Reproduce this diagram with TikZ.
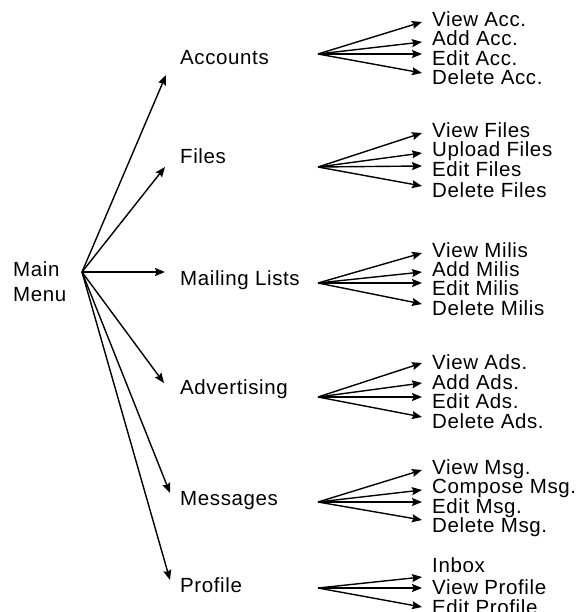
\documentclass[tikz,border=0pt]{standalone}
\usepackage{fontspec}
\setmainfont{Liberation Sans}[LetterSpace=3]
\usetikzlibrary{arrows.meta}
\begin{document}
\begin{tikzpicture}[x=1pt,y=-1pt,
  lbl/.style={anchor=base west,inner sep=0pt,font=\fontsize{20.5pt}{24pt}\selectfont},
  arr/.style={line width=1.4pt,-{Stealth[length=10pt,width=8pt,inset=1.5pt]}}]
\useasboundingbox[fill=white] (0,0) rectangle (580,612);
% root
\node[anchor=west,inner sep=0pt,align=left,font=\fontsize{20.5pt}{25pt}\selectfont] (main) at (13,282) {Main\\Menu};
\coordinate (o) at (82,272);
% first level labels
\node[lbl] (acc) at (180,65) {Accounts};
\node[lbl] (fil) at (180,164) {Files};
\node[lbl] (mai) at (180,285) {Mailing Lists};
\node[lbl] (adv) at (180,394) {Advertising};
\node[lbl] (msg) at (180,505) {Messages};
\node[lbl] (pro) at (180,592) {Profile};
% first level arrow tips
\coordinate (tacc) at (166,75);
\coordinate (tfil) at (165,167);
\coordinate (tmai) at (165,272);
\coordinate (tadv) at (164,383);
\coordinate (tmsg) at (170,493);
\coordinate (tpro) at (170,580);
\foreach \t in {tacc,tfil,tmai,tadv,tmsg,tpro} \draw[arr] (o) -- (\t);
% Accounts
\coordinate (as) at (318,54);
\node[lbl] (a1) at (432,27) {View Acc.};
\node[lbl] (a2) at (432,46) {Add Acc.};
\node[lbl] (a3) at (432,66) {Edit Acc.};
\node[lbl] (a4) at (432,85) {Delete Acc.};
\coordinate (at1) at (422,22);
\coordinate (at2) at (422,42);
\coordinate (at3) at (422,54);
\coordinate (at4) at (422,73);
% Files
\coordinate (fs) at (318,167);
\node[lbl] (f1) at (432,138) {View Files};
\node[lbl] (f2) at (432,157) {Upload Files};
\node[lbl] (f3) at (432,177) {Edit Files};
\node[lbl] (f4) at (432,197) {Delete Files};
\coordinate (ft1) at (422,133);
\coordinate (ft2) at (422,153);
\coordinate (ft3) at (422,166);
\coordinate (ft4) at (422,186);
% Mailing Lists
\coordinate (ms) at (318,283);
\node[lbl] (m1) at (432,257) {View Milis};
\node[lbl] (m2) at (432,276) {Add Milis};
\node[lbl] (m3) at (432,295) {Edit Milis};
\node[lbl] (m4) at (432,315) {Delete Milis};
\coordinate (mt1) at (422,253);
\coordinate (mt2) at (422,272);
\coordinate (mt3) at (422,283);
\coordinate (mt4) at (422,304);
% Advertising
\coordinate (ds) at (318,397);
\node[lbl] (d1) at (432,369) {View Ads.};
\node[lbl] (d2) at (432,389) {Add Ads.};
\node[lbl] (d3) at (432,408) {Edit Ads.};
\node[lbl] (d4) at (432,428) {Delete Ads.};
\coordinate (dt1) at (422,363);
\coordinate (dt2) at (422,383);
\coordinate (dt3) at (422,397);
\coordinate (dt4) at (422,417);
% Messages
\coordinate (gs) at (318,502);
\node[lbl] (g1) at (432,474) {View Msg.};
\node[lbl] (g2) at (432,493) {Compose Msg.};
\node[lbl] (g3) at (432,513) {Edit Msg.};
\node[lbl] (g4) at (432,532) {Delete Msg.};
\coordinate (gt1) at (422,470);
\coordinate (gt2) at (422,490);
\coordinate (gt3) at (422,502);
\coordinate (gt4) at (422,520);
% Profile
\coordinate (ps) at (318,588);
\node[lbl] (p1) at (432,572) {Inbox};
\node[lbl] (p2) at (432,594) {View Profile};
\node[lbl] (p3) at (432,614) {Edit Profile};
\coordinate (pt1) at (422,577);
\coordinate (pt2) at (422,588);
\coordinate (pt3) at (422,607);
\foreach \g in {a,f,m,d,g}
  \foreach \i in {1,2,3,4} \draw[arr] (\g s) -- (\g t\i);
\foreach \i in {1,2,3} \draw[arr] (ps) -- (pt\i);
\end{tikzpicture}
\end{document}
